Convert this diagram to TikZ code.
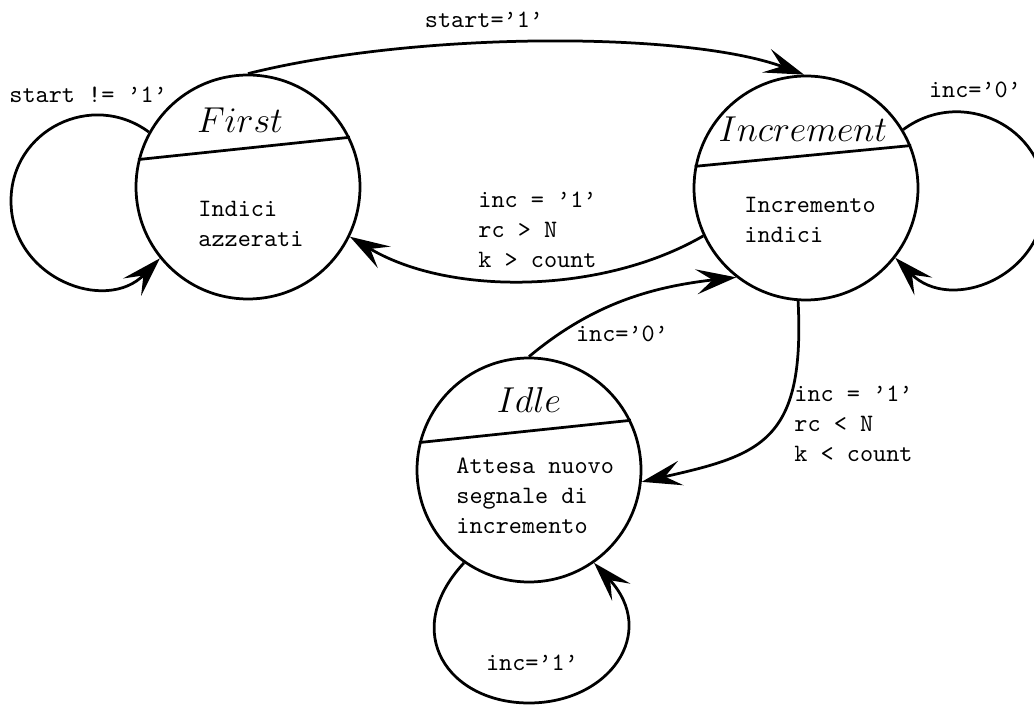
\documentclass[tikz,border=0pt]{standalone}
\usetikzlibrary{arrows.meta}
\begin{document}
\begin{tikzpicture}[x=0.4pt,y=-0.4pt,line width=1.1pt,
  state/.style={circle,draw,minimum size=89.6pt,inner sep=0pt},
  arr/.style={-{Stealth[length=16pt,width=10pt,inset=6.5pt]}},
  title/.style={font=\Large,inner sep=0pt,anchor=base},
  body/.style={font=\ttfamily,align=left,inner sep=0pt,anchor=base west},
  lbl/.style={font=\ttfamily,align=left,inner sep=0pt}]
\useasboundingbox (0,0) rectangle (1034,705);
\fill[white] (0,0) rectangle (1034,705);

% states
\node[state] (first) at (248,187) {};
\node[state] (inc)   at (806,188) {};
\node[state] (idle)  at (529,470) {};

% dividers between name and description
\draw (first.166) -- (first.26.6);
\draw (inc.169)   -- (inc.22.5);
\draw (idle.166)  -- (idle.26);

% state names
\node[title] (firstname) at (240,133) {$First$};
\node[title] (incname)   at (803,142) {$Increment$};
\node[title] (idlename)  at (529,413) {$Idle$};

% state descriptions (anchored at the baseline of the last line)
\node[body] (firstbody) at (197,247) {Indici\\azzerati};
\node[body] (incbody)   at (743,243) {Incremento\\indici};
\node[body] (idlebody)  at (455,534) {Attesa nuovo\\segnale di\\incremento};

% transitions
\draw[arr] (first.90) .. controls +(172,-43) and +(-116,-43) .. (inc.91);
\draw[arr] (inc.205.7) .. controls +(-100,58) and +(100,60) .. (first.334);
\draw[arr] (idle.90) .. controls +(60,-50) and +(-90,10) .. (inc.232);
\draw[arr] (inc.266) .. controls +(7,140) and +(120,-27) .. (idle.354);

% outermost points of the self loops
\coordinate (firstloop) at (11,201);
\coordinate (incloop)   at (1045,198);
\coordinate (idleloop)  at (529,703);

% self loops
\draw[arr] (first.151.6) .. controls +(-57,-42) and +(0,-71) .. (firstloop)
                         .. controls +(0,77) and +(-54,56) .. (first.219);
\draw[arr] (inc.31.2) .. controls +(58,-43) and +(0,-72) .. (incloop)
                      .. controls +(0,79) and +(55,56) .. (inc.322.8);
\draw[arr] (idle.235) .. controls +(-65,70) and +(-80,0) .. (idleloop)
                      .. controls +(80,0) and +(65,70) .. (idle.305);

% transition labels
\node[lbl,anchor=base west] (lstartno) at (8,103) {start != ’1’};
\node[lbl,anchor=base] (lstart) at (484,28) {start=’1’};
\node[lbl,anchor=base] (linczero) at (975,98) {inc=’0’};
\node[lbl,anchor=base west] (lback) at (477,268) {inc = ’1’\\rc > N\\k > count};
\node[lbl,anchor=base] (lidlezero) at (622,342) {inc=’0’};
\node[lbl,anchor=base west] (lfwd) at (793,462) {inc = ’1’\\rc < N\\k < count};
\node[lbl,anchor=base] (lidleone) at (532,670) {inc=’1’};
\end{tikzpicture}
\end{document}
